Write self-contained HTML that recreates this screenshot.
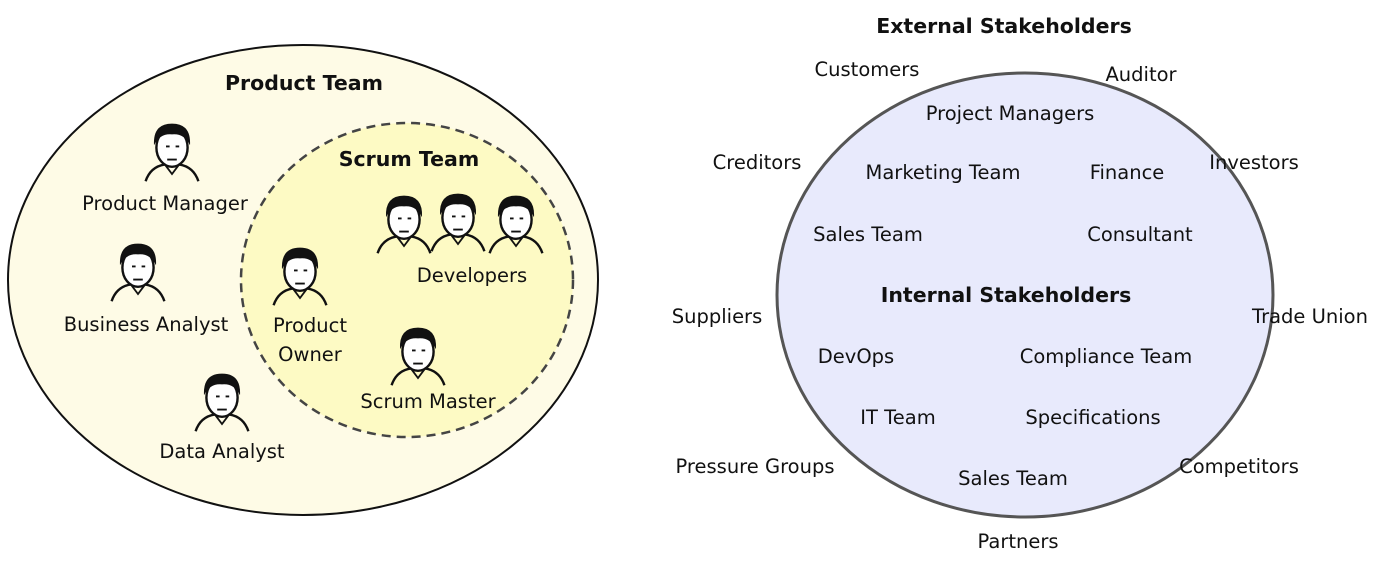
<!DOCTYPE html>
<html><head><meta charset="utf-8"><style>
html,body{margin:0;padding:0;background:#fff;}
svg{display:block;}
text{font-family:"DejaVu Sans","Liberation Sans",sans-serif;font-size:19.5px;fill:#111;text-anchor:middle;}
.b{font-weight:bold;font-size:20.5px;}
</style></head><body>
<svg width="1382" height="566" viewBox="0 0 1382 566">
<defs>
<g id="face" transform="scale(1.2)">
<path d="M-22,26 Q-18,14 -6,12 L6,12 Q18,14 22,26" fill="none" stroke="#111" stroke-width="2"/>
<ellipse cx="0" cy="-2" rx="13" ry="16" fill="#fff" stroke="#111" stroke-width="2"/>
<path d="M-15,-4 Q-16,-22 0,-22 Q16,-22 15,-4 Q10,-14 0,-13 Q-10,-14 -15,-4Z" fill="#111"/>
<path d="M-5,-3 h3 M3,-3 h3 M-4,8 h8" stroke="#111" stroke-width="1.6"/>
<path d="M-6,12 L0,20 L6,12" fill="none" stroke="#111" stroke-width="1.5"/>
</g>
</defs>
<ellipse cx="303" cy="280" rx="295" ry="235" fill="#fefbe6" stroke="#111" stroke-width="2"/>
<ellipse cx="407" cy="280" rx="166" ry="157" fill="#fdfac4" stroke="#444" stroke-width="2.5" stroke-dasharray="9,6"/>
<text class="b" x="304" y="90">Product Team</text>
<text class="b" x="409" y="166">Scrum Team</text>
<use href="#face" x="172" y="150"/>
<use href="#face" x="138" y="270"/>
<use href="#face" x="222" y="400"/>
<use href="#face" x="404" y="222"/>
<use href="#face" x="458" y="220"/>
<use href="#face" x="516" y="222"/>
<use href="#face" x="300" y="274"/>
<use href="#face" x="418" y="354"/>
<text x="165" y="210">Product Manager</text>
<text x="146" y="331">Business Analyst</text>
<text x="222" y="458">Data Analyst</text>
<text x="472" y="282">Developers</text>
<text x="310" y="332">Product</text>
<text x="310" y="361">Owner</text>
<text x="428" y="408">Scrum Master</text>

<ellipse cx="1025" cy="295" rx="248" ry="222" fill="#e8eafc" stroke="#555" stroke-width="3"/>
<text class="b" x="1004" y="33">External Stakeholders</text>
<text class="b" x="1006" y="302">Internal Stakeholders</text>
<text x="867" y="76">Customers</text>
<text x="1141" y="81">Auditor</text>
<text x="1010" y="120">Project Managers</text>
<text x="757" y="169">Creditors</text>
<text x="943" y="179">Marketing Team</text>
<text x="1127" y="179">Finance</text>
<text x="1254" y="169">Investors</text>
<text x="868" y="241">Sales Team</text>
<text x="1140" y="241">Consultant</text>
<text x="717" y="323">Suppliers</text>
<text x="1310" y="323">Trade Union</text>
<text x="856" y="363">DevOps</text>
<text x="1106" y="363">Compliance Team</text>
<text x="898" y="424">IT Team</text>
<text x="1093" y="424">Specifications</text>
<text x="755" y="473">Pressure Groups</text>
<text x="1239" y="473">Competitors</text>
<text x="1013" y="485">Sales Team</text>
<text x="1018" y="548">Partners</text>
</svg>
</body></html>
